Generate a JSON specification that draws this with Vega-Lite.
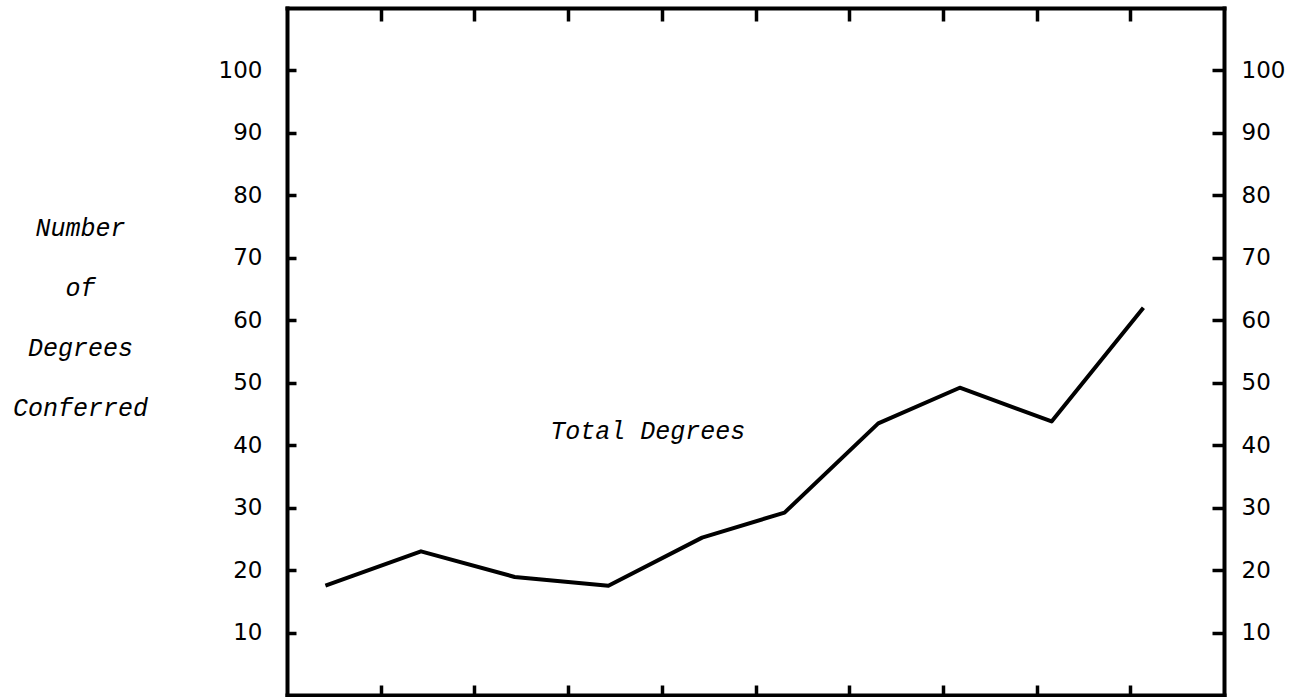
{
  "$schema": "https://vega.github.io/schema/vega-lite/v6.json",
  "width": 937,
  "height": 687,
  "autosize": {"type": "none"},
  "padding": {"left": 287, "top": 8, "right": 79, "bottom": 2},
  "background": "white",
  "config": {
    "view": {"stroke": null},
    "axis": {
      "grid": false,
      "domainColor": "black",
      "domainWidth": 4,
      "domainCap": "square",
      "tickColor": "black",
      "tickWidth": 3.5,
      "labelColor": "black",
      "labelFont": "DejaVu Sans",
      "labelFontSize": 23
    }
  },
  "datasets": {
    "degrees": [
      {"position": 0.41, "degrees": 17.5},
      {"position": 1.43, "degrees": 23.0},
      {"position": 2.43, "degrees": 18.9},
      {"position": 3.43, "degrees": 17.5},
      {"position": 4.43, "degrees": 25.2},
      {"position": 5.31, "degrees": 29.2},
      {"position": 6.31, "degrees": 43.5},
      {"position": 7.18, "degrees": 49.2},
      {"position": 8.16, "degrees": 43.8},
      {"position": 9.14, "degrees": 62.0}
    ],
    "labels": [
      {"position": 3.85, "degrees": 42.2, "text": "Total Degrees"}
    ]
  },
  "layer": [
    {
      "data": {"name": "degrees"},
      "mark": {"type": "line", "color": "black", "strokeWidth": 4, "strokeJoin": "round"},
      "encoding": {
        "x": {
          "field": "position",
          "type": "quantitative",
          "scale": {"domain": [0, 10], "nice": false, "zero": false},
          "axis": {
            "orient": "bottom",
            "values": [1, 2, 3, 4, 5, 6, 7, 8, 9],
            "labels": false,
            "tickSize": -10,
            "title": null
          }
        },
        "y": {
          "field": "degrees",
          "type": "quantitative",
          "scale": {"domain": [0, 110], "nice": false},
          "axis": {
            "orient": "left",
            "values": [10, 20, 30, 40, 50, 60, 70, 80, 90, 100],
            "tickSize": -9,
            "labelPadding": 34,
            "title": ["Number", "of", "Degrees", "Conferred"],
            "titleAngle": 0,
            "titleX": -207,
            "titleY": 219,
            "titleAlign": "center",
            "titleBaseline": "middle",
            "titleLineHeight": 60,
            "titleFont": "Liberation Mono",
            "titleFontStyle": "italic",
            "titleFontWeight": "normal",
            "titleFontSize": 25,
            "titleColor": "black"
          }
        }
      }
    },
    {
      "data": {"name": "labels"},
      "mark": {"type": "text", "font": "Liberation Mono", "fontStyle": "italic", "fontSize": 25, "color": "black", "align": "center", "baseline": "middle"},
      "encoding": {
        "x": {
          "field": "position",
          "type": "quantitative",
          "scale": {"domain": [0, 10], "nice": false, "zero": false},
          "axis": {
            "orient": "top",
            "values": [1, 2, 3, 4, 5, 6, 7, 8, 9],
            "labels": false,
            "tickSize": -13,
            "title": null
          }
        },
        "y": {
          "field": "degrees",
          "type": "quantitative",
          "scale": {"domain": [0, 110], "nice": false},
          "axis": {
            "orient": "right",
            "values": [10, 20, 30, 40, 50, 60, 70, 80, 90, 100],
            "tickSize": -12,
            "labelPadding": 29,
            "title": null
          }
        },
        "text": {"field": "text"}
      }
    }
  ],
  "resolve": {"axis": {"x": "independent", "y": "independent"}}
}
